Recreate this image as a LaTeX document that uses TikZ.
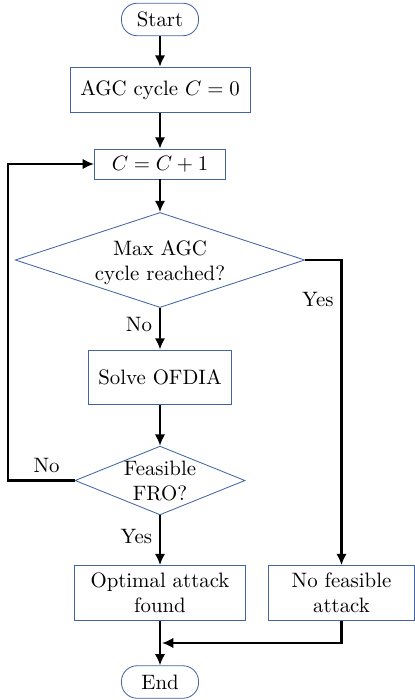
\documentclass[tikz,border=0pt]{standalone}
\usepackage{amsmath, amssymb}
\usepackage{tikz}
\usetikzlibrary{shapes.geometric, arrows.meta}
\usepackage{xcolor}

\definecolor{boxblue}{RGB}{65,100,165}

% text of a decision node, allowed to run over the border
\newcommand{\dtext}[1]{\makebox[0pt]{\smash{\raisebox{-3.8pt}{\begin{tabular}{@{}c@{}}#1\end{tabular}}}}}

\tikzset{
    terminal/.style={draw=boxblue, rounded corners=7.5pt, minimum width=37pt, minimum height=15.6pt, inner sep=0pt},
    process/.style={draw=boxblue, align=center, inner sep=0pt},
    decision/.style={diamond, draw=boxblue, inner sep=0pt},
    arrow/.style={-{Latex[length=5.4pt,width=5pt]}, line width=1pt},
}

\begin{document}
\begin{tikzpicture}[x=0.48pt, y=-0.48pt]

    % Frame
    \useasboundingbox (0,0) rectangle (415,700);

    % Nodes
    \node[terminal] (start) at (160,19.5) {Start};
    \node[process, minimum width=86.4pt, minimum height=22pt] (agc) at (160,90) {AGC cycle $C=0$};
    \node[process, minimum width=63pt, minimum height=14.4pt] (cbox) at (160,164) {$C=C+1$};
    \node[decision, minimum width=139pt, minimum height=45.6pt] (d1) at (160,260) {\dtext{Max AGC\\cycle reached?}};
    \node[process, minimum width=69pt, minimum height=26pt] (solve) at (160,377) {Solve OFDIA};
    \node[decision, minimum width=81.6pt, minimum height=33pt] (d2) at (160,480.5) {\dtext{Feasible\\FRO?}};
    \node[process, minimum width=82pt, minimum height=26.4pt] (opt) at (160,593) {Optimal attack\\found};
    \node[process, minimum width=70pt, minimum height=26.4pt] (nofeas) at (341.5,593) {No feasible\\attack};
    \node[terminal] (stop) at (160,682) {End};

    % Corners
    \coordinate (loop) at (8,480.5);
    \coordinate (merge) at (162,643);

    % Straight arrows
    \foreach \a/\b in {start/agc, agc/cbox, cbox/d1, solve/d2, opt/stop} {
        \draw[arrow] (\a) -- (\b);
    }

    % Branches
    \draw[arrow] (d1) -- node[pos=0.4, left] {No} (solve);
    \draw[arrow] (d2) -- node[pos=0.42, left] {Yes} (opt);
    \draw[arrow] (d1.east) -| node[pos=0.565, left] {Yes} (nofeas.north);
    \draw[arrow] (d2.west) -- node[pos=0.42, above] {No} (loop) |- (cbox.west);
    \draw[arrow] (nofeas.south) |- (merge);

\end{tikzpicture}
\end{document}
